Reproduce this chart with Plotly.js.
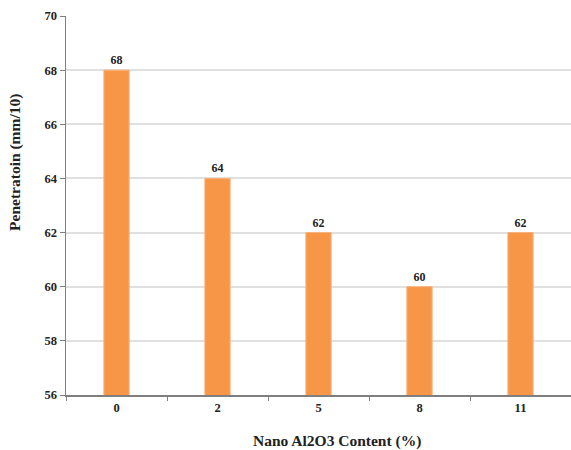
<!DOCTYPE html>
<html>
<head>
<meta charset="utf-8">
<script src="https://cdn.plot.ly/plotly-3.0.1.min.js"></script>
<style>html,body{margin:0;padding:0;background:#fff;}#chart{width:571px;height:450px;}</style>
</head>
<body>
<div id="chart"></div>
<script>
const categories = ["0", "2", "5", "8", "11"];
const penetration = [68, 64, 62, 60, 62];
const yTicks = [56, 58, 60, 62, 64, 66, 68, 70];

const fontFam = "Liberation Serif";

Plotly.newPlot("chart", [{
  type: "bar",
  x: categories,
  y: penetration,
  marker: {color: "#F79646", line: {color: "#FAB07A", width: 1}},
  text: penetration.map(String),
  textposition: "outside",
  cliponaxis: false,
  textfont: {family: fontFam, size: 12, color: "#222"},
  texttemplate: "<b>%{text}</b>",
  hoverinfo: "none"
}], {
  width: 571, height: 450,
  margin: {l: 66, r: 0, t: 16, b: 55},
  paper_bgcolor: "#fff", plot_bgcolor: "#fff",
  bargap: 0.75,
  showlegend: false,
  font: {family: fontFam, color: "#222"},
  xaxis: {
    type: "category",
    range: [-0.5, 4.5],
    showline: true, linecolor: "#7f7f7f", linewidth: 1.5,
    ticks: "outside", tickson: "boundaries", ticklen: 4, tickcolor: "#7f7f7f",
    tickfont: {family: fontFam, size: 12.5, color: "#222", weight: "bold"},
    showgrid: false, zeroline: false
  },
  yaxis: {
    range: [56, 70],
    tickvals: yTicks,
    showline: true, linecolor: "#7f7f7f", linewidth: 1.5,
    ticks: "outside", ticklen: 5, tickcolor: "#7f7f7f",
    tickfont: {family: fontFam, size: 12.5, color: "#222", weight: "bold"},
    showgrid: true, gridcolor: "#e0e0e0", gridwidth: 2,
    zeroline: false
  },
  annotations: [
    {text: "<b>Nano Al2O3 Content (%)</b>", xref: "paper", yref: "paper",
     x: 0.537, y: -0.121, xanchor: "center", yanchor: "middle", showarrow: false,
     font: {family: fontFam, size: 15.5, color: "#222"}},
    {text: "<b>Penetratoin (mm/10)</b>", xref: "paper", yref: "paper",
     x: -0.101, xanchor: "center", y: 0.615, yanchor: "middle", textangle: -90, showarrow: false,
     font: {family: fontFam, size: 15.5, color: "#222"}}
  ]
}, {displayModeBar: false, staticPlot: true});
</script>
</body>
</html>
